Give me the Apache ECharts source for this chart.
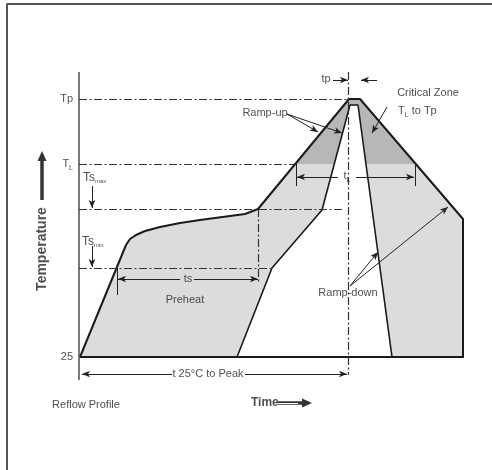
<!DOCTYPE html>
<html>
<head>
<meta charset="utf-8">
<script src="https://cdn.jsdelivr.net/npm/echarts@6/dist/echarts.min.js"></script>
<style>html,body{margin:0;padding:0;background:#fff}#c{width:492px;height:470px}</style>
</head>
<body>
<div id="c"></div>
<script>
// ---- schematic units: x = time, y = temperature (schematic) ----
const levelValues = [25, 218, 283];
const levelNames = ['25', 'T{s|L}', 'Tp'];
const tsMin = 114, tsMax = 173, tL = 218, tP = 283;

// outer (slow) profile
const outerProfile = [[1,25],[47,137],[51,143],[57,147],[66,151],[81,155],[101,159],[121,162],[151,166],[166,168],[179,173],[270,283],[281,283],[384,163],[384,25]];
// inner (fast) profile
const innerProfile = [[158,25],[193,114],[243,172],[271,277],[279,277],[313,25]];
// baseline
const baseLine = [[1,25],[385,25]];
// filled band between profiles
const bandPolygon = [[1,25],[47,137],[51,143],[57,147],[66,151],[81,155],[101,159],[121,162],[151,166],[166,168],[179,173],[270,283],[281,283],[384,163],[384,25],[313,25],[279,277],[271,277],[243,172],[193,114],[158,25]];
// critical zone (TL to Tp) within band
const criticalZone = [[216,218],[270,283],[281,283],[336,218],[287,218],[279,277],[271,277],[255,218]];

// y axis line
const yAxisLine = [[0,2],[0,310]];
// frame
const frameLine = [[-72,-88],[-72,378],[413,378]];

// dash-dot reference lines [x1,y1,x2,y2]
const refLines = [
  [0,tP,269,tP],[0,tL,216,tL],[0,tsMax,263,tsMax],[0,tsMin,193,tsMin],
  [269,310,269,7],[281,312,281,283],[179,tsMax,179,100]
];
// arrows [tailX,tailY,tipX,tipY]
const arrows = [
  [254,302,269,302],[298,302,282,302],
  [208,268,239,250],[208,268,263,249],
  [308,275,293,249],
  [259,205,218,205],[277,205,335,205],
  [101,103,39,103],[115,103,179,103],
  [93,8,3,8],[166,8,268,8],
  [13,196,13,174],[13,136,13,115],
  [271,96,299,130],[271,96,369,175]
];
// short solid ticks
const ticks = [[38,114,38,87],[217,218,217,196],[336,218,336,196]];
// big arrows (Temperature, Time)
const bigArrows = [[-37,182,-37,226],[199,-21,228,-21]];
const timeShaftGap = [[199,-21,219,-21]];

// text annotations [text, x, y, align]
const texts = [
  ['Ramp-up',186,269,'center'],
  ['Critical Zone',349,289,'center'],
  ['T{s|L} to Tp',319,271,'left'],
  ['t{s|L}',268,206,'center'],
  ['tp',247,303,'center'],
  ['ts',109,103,'center'],
  ['Preheat',106,82,'center'],
  ['Ramp-down',269,89,'center'],
  ['t 25°C to Peak',129,8,'center'],
  ['{t|Ts}{m|max}',4,204,'left'],
  ['{t|Ts}{m|min}',3,140,'left'],
  ['Reflow Profile',7,-23,'center'],
  ['{b|Time}',172,-21,'left']
];
const rotatedTexts = [['Temperature',-37,133]];

const FONT = '"Liberation Sans Narrow","Arial Narrow","Liberation Sans",Arial,sans-serif';
const INK = '#222';
const rich = {
  s: {fontSize: 7, fontFamily: FONT, color: INK, verticalAlign: 'bottom', padding: [8,0,0,0]},
  m: {fontSize: 6, fontFamily: FONT, color: INK, padding: [7,0,0,0]},
  t: {fontSize: 12, fontFamily: FONT, color: INK},
  b: {fontSize: 12, fontFamily: FONT, color: INK, fontWeight: 'bold'}
};

const seg = (arr) => arr.map(a => [{coord:[a[0],a[1]]},{coord:[a[2],a[3]]}]);

function polygonSeries(points, fill) {
  return {
    type: 'custom', silent: true, data: points,
    renderItem: (params, api) => {
      if (params.dataIndex !== 0) return;
      return {type:'polygon', shape:{points: points.map(p => api.coord(p))}, style:{fill: fill}};
    }
  };
}

const chart = echarts.init(document.getElementById('c'), null, {renderer:'canvas'});
chart.setOption({
  animation: false,
  backgroundColor: '#fff',
  grid: {left:0, right:0, top:72, bottom:0, containLabel:false, outerBoundsMode:'none'},
  xAxis: {type:'value', min:-79, max:413, show:false, axisLine:{onZero:false}},
  yAxis: {type:'value', min:-88, max:310, show:false, axisLine:{onZero:false}},
  series: [
    polygonSeries(bandPolygon, '#dcdcde'),
    polygonSeries(criticalZone, '#b7b7ba'),
    {type:'line', data: frameLine, symbol:'none', silent:true, clip:false, lineStyle:{color:'#555', width:2}},
    {type:'line', data: yAxisLine, symbol:'none', silent:true, lineStyle:{color:'#333', width:1.3},
      markLine:{silent:true, symbol:'none', label:{show:false}, lineStyle:{color:'#333', width:1.2, type:[8,2.5,2,2.5]}, data: seg(refLines)}},
    {type:'line', data: outerProfile, symbol:'none', silent:true, lineStyle:{color:'#1a1a1a', width:2},
      markLine:{silent:true, symbol:['none','arrow'], symbolSize:[5,8], label:{show:false}, lineStyle:{color:'#222', width:1, type:'solid'}, data: seg(arrows)}},
    {type:'line', data: innerProfile, symbol:'none', silent:true, lineStyle:{color:'#1a1a1a', width:1.6},
      markLine:{silent:true, symbol:'none', label:{show:false}, lineStyle:{color:'#222', width:1, type:'solid'}, data: seg(ticks)}},
    {type:'line', data: baseLine, symbol:'none', silent:true, lineStyle:{color:'#1a1a1a', width:2.2},
      markLine:{silent:true, symbol:['none','triangle'], symbolSize:[9,10], label:{show:false}, lineStyle:{color:'#333', width:3.5, type:'solid'}, data: seg(bigArrows)}},
    {type:'line', data: [], symbol:'none', silent:true,
      markLine:{silent:true, symbol:'none', label:{show:false}, lineStyle:{color:'#fff', width:1, type:'solid'}, data: seg(timeShaftGap)}},
    {type:'scatter', symbolSize:0, silent:true, clip:false,
      data: levelValues.map((v,i) => ({value:[-6,v], label:{show:true, position:'inside', formatter:levelNames[i], align:'right', verticalAlign:'middle', fontSize:11, fontFamily:FONT, color:INK, rich: rich}}))},
    {type:'scatter', symbolSize:0, silent:true, clip:false,
      data: texts.map(t => ({value:[t[1],t[2]], label:{show:true, position:'inside', formatter:t[0], align:t[3], verticalAlign:'middle', fontSize:11, fontFamily:FONT, color:INK, rich: rich}}))},
    {type:'scatter', symbolSize:0, silent:true, clip:false,
      data: rotatedTexts.map(t => ({value:[t[1],t[2]], label:{show:true, position:'inside', formatter:t[0], rotate:90, fontSize:14, fontWeight:'bold', fontFamily:FONT, color:INK}}))}
  ]
});
</script>
</body>
</html>
